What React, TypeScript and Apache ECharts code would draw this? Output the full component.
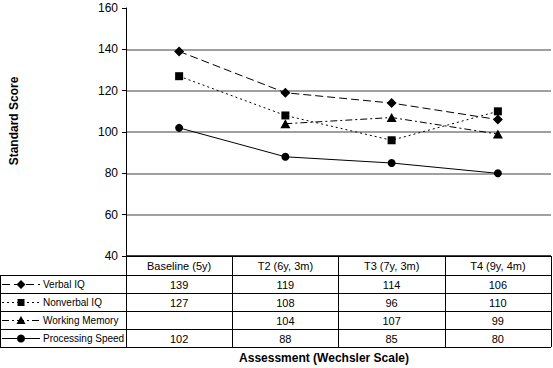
import React, { useEffect, useRef } from "react";
import * as echarts from "echarts";

const categories = ["Baseline (5y)", "T2 (6y, 3m)", "T3 (7y, 3m)", "T4 (9y, 4m)"];
const seriesNames = ["Verbal IQ", "Nonverbal IQ", "Working Memory", "Processing Speed"];
const verbalIQ: (number | null)[] = [139, 119, 114, 106];
const nonverbalIQ: (number | null)[] = [127, 108, 96, 110];
const workingMemory: (number | null)[] = [null, 104, 107, 99];
const processingSpeed: (number | null)[] = [102, 88, 85, 80];
const seriesValues = [verbalIQ, nonverbalIQ, workingMemory, processingSpeed];
const yMin = 40;
const yMax = 160;
const yStep = 20;
const yTitle = "Standard Score";
const xTitle = "Assessment (Wechsler Scale)";

const symbols = ["diamond", "rect", "triangle", "circle"];
const symbolSizes: any[] = [[10, 10], [8, 8], [10, 9], [8, 8]];
const dashes: any[] = [[8, 4], [2, 3], [7, 3, 2, 3], null];

const FONT = "Liberation Sans, Arial, Helvetica, sans-serif";
const W = 553;
const H = 368;
const GRID_LEFT = 126;
const GRID_RIGHT = 2;
const GRID_TOP = 8;
const AXIS_Y = 256;
const HEADER_H = 19;
const ROW_H = 18;

function legendMarker(kind: string, cx: number, cy: number): any {
  const st = { fill: "#000", stroke: "none" };
  if (kind === "diamond") return { type: "polygon", shape: { points: [[cx, cy - 4.5], [cx + 4.5, cy], [cx, cy + 4.5], [cx - 4.5, cy]] }, style: st };
  if (kind === "rect") return { type: "rect", shape: { x: cx - 3.5, y: cy - 3.5, width: 7, height: 7 }, style: st };
  if (kind === "triangle") return { type: "polygon", shape: { points: [[cx, cy - 4.5], [cx + 4.5, cy + 3.5], [cx - 4.5, cy + 3.5]] }, style: st };
  return { type: "circle", shape: { cx, cy, r: 4 }, style: st };
}

export default function App() {
  const ref = useRef<HTMLDivElement>(null);
  useEffect(() => {
    if (!ref.current) return;
    const chart = echarts.init(ref.current, undefined, { renderer: "svg" });
    const tableTop = AXIS_Y + HEADER_H;
    const tableBottom = tableTop + ROW_H * seriesNames.length;
    const nLines = (yMax - yMin) / yStep + 1;
    const splitColors = Array.from({ length: nLines }, (_, i) =>
      i === 0 ? "#000" : i === nLines - 1 ? "rgba(0,0,0,0)" : "#808080"
    );
    chart.setOption({
      animation: false,
      grid: { left: GRID_LEFT, right: GRID_RIGHT, top: GRID_TOP, bottom: H - AXIS_Y, containLabel: false },
      xAxis: {
        type: "category",
        data: categories,
        boundaryGap: true,
        axisLine: { show: true, lineStyle: { color: "#000", width: 1 } },
        axisTick: { show: true, length: tableBottom - AXIS_Y, lineStyle: { color: "#000", width: 1 } },
        axisLabel: { fontFamily: FONT, fontSize: 11, color: "#000", margin: 4, lineHeight: 12 },
        splitLine: { show: false },
      },
      yAxis: {
        type: "value",
        min: yMin,
        max: yMax,
        interval: yStep,
        axisLine: { show: true, lineStyle: { color: "#000", width: 1 } },
        axisTick: { show: true, length: 4, lineStyle: { color: "#000" } },
        axisLabel: { fontFamily: FONT, fontSize: 12, color: "#000", margin: 8 },
        splitLine: { show: true, lineStyle: { color: splitColors, width: 1.5 } },
      },
      series: seriesNames.map((name, s) => ({
        name,
        type: "line",
        data: seriesValues[s],
        symbol: symbols[s],
        symbolSize: symbolSizes[s],
        connectNulls: false,
        itemStyle: { color: "#000" },
        lineStyle: { color: "#000", width: 1, type: dashes[s] || "solid" },
      })),
    });

    const xs = categories.map((_, i) => chart.convertToPixel({ xAxisIndex: 0 }, i) as number);
    const rightX = W - GRID_RIGHT;
    const graphics: any[] = [];
    for (let r = 0; r <= seriesNames.length; r++) {
      const y = tableTop + r * ROW_H + 0.5;
      graphics.push({ type: "line", shape: { x1: 0, y1: y, x2: rightX, y2: y }, style: { stroke: "#000", lineWidth: 1 }, silent: true });
    }
    graphics.push({ type: "line", shape: { x1: 0.5, y1: tableTop, x2: 0.5, y2: tableBottom }, style: { stroke: "#000", lineWidth: 1 } });
    seriesNames.forEach((name, r) => {
      const cy = tableTop + r * ROW_H + ROW_H / 2 + 0.5;
      graphics.push({
        type: "line",
        shape: { x1: 2, y1: cy, x2: 40, y2: cy },
        style: { stroke: "#000", lineWidth: 1, lineDash: dashes[r] || undefined },
      });
      graphics.push(legendMarker(symbols[r], 21, cy));
      graphics.push({
        type: "text",
        x: 43,
        y: cy,
        style: { text: name, font: `10px ${FONT}`, fill: "#000", textAlign: "left", textVerticalAlign: "middle", align: "left", verticalAlign: "middle" },
      });
    });
    seriesValues.forEach((vals, r) => {
      vals.forEach((v, i) => {
        if (v == null) return;
        graphics.push({
          type: "text",
          x: xs[i],
          y: tableTop + r * ROW_H + ROW_H / 2 + 0.5,
          style: { text: String(v), font: `11px ${FONT}`, fill: "#000", textAlign: "center", textVerticalAlign: "middle", align: "center", verticalAlign: "middle" },
        });
      });
    });
    graphics.push({
      type: "text",
      x: 14,
      y: 121,
      rotation: Math.PI / 2,
      style: { text: yTitle, font: `bold 12px ${FONT}`, fill: "#000", textAlign: "center", textVerticalAlign: "middle", align: "center", verticalAlign: "middle" },
    });
    graphics.push({
      type: "text",
      x: 324,
      y: 358,
      style: { text: xTitle, font: `bold 12px ${FONT}`, fill: "#000", textAlign: "center", textVerticalAlign: "middle", align: "center", verticalAlign: "middle" },
    });
    chart.setOption({ graphic: graphics });
    return () => chart.dispose();
  }, []);
  return <div ref={ref} style={{ width: W, height: H, position: "absolute", left: 0, top: 0 }} />;
}
